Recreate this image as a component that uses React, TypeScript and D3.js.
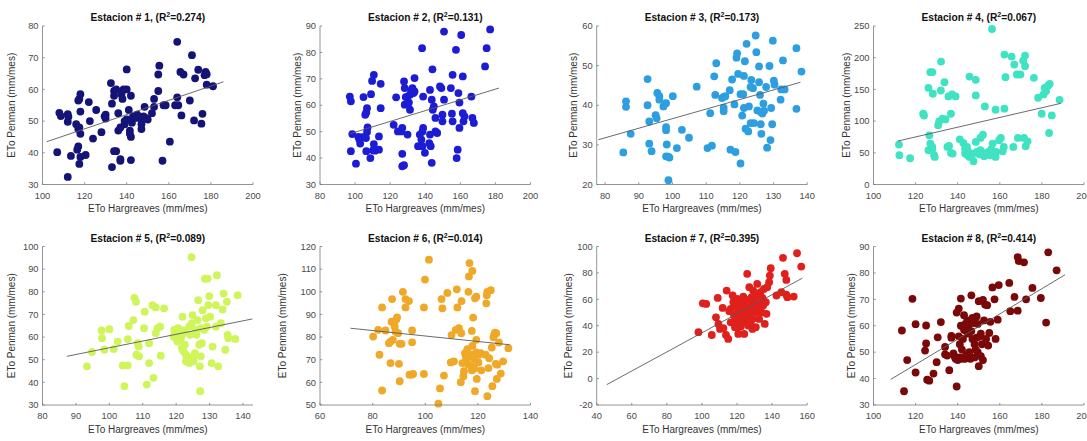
import React from "react";
import * as d3 from "d3";

type Pt = [number, number];

const stationIds = [1, 2, 3, 4, 5, 6, 7, 8];
const r2Labels = ["0.274", "0.131", "0.173", "0.067", "0.089", "0.014", "0.395", "0.414"];
const xLabel = "ETo Hargreaves (mm/mes)";
const yLabel = "ETo Penman (mm/mes)";

const xDomains: Pt[] = [[100, 200], [80, 200], [77.5, 140], [100, 200], [80, 143], [60, 140], [40, 160], [100, 200]];
const yDomains: Pt[] = [[30, 80], [30, 90], [20, 60], [0, 250], [30, 100], [50, 120], [-20, 100], [30, 90]];

const xTicks: number[][] = [
  [100, 120, 140, 160, 180, 200],
  [80, 100, 120, 140, 160, 180, 200],
  [80, 90, 100, 110, 120, 130, 140],
  [100, 120, 140, 160, 180, 200],
  [80, 90, 100, 110, 120, 130, 140],
  [60, 80, 100, 120, 140],
  [40, 60, 80, 100, 120, 140, 160],
  [100, 120, 140, 160, 180, 200],
];
const yTicks: number[][] = [
  [30, 40, 50, 60, 70, 80],
  [30, 40, 50, 60, 70, 80, 90],
  [20, 30, 40, 50, 60],
  [0, 50, 100, 150, 200, 250],
  [30, 40, 50, 60, 70, 80, 90, 100],
  [50, 60, 70, 80, 90, 100, 110, 120],
  [-20, 0, 20, 40, 60, 80, 100],
  [30, 40, 50, 60, 70, 80, 90],
];

const colors = ["#141478", "#1c1cd4", "#2d9fe0", "#3fe3c2", "#cff55a", "#f0a828", "#e0201c", "#7a0808"];

// regression line end points [x, y]
const fits: Pt[][] = [
  [[102, 43.5], [186, 62.4]],
  [[97, 49.2], [182, 66.5]],
  [[78, 31.3], [138, 45.8]],
  [[111.5, 68.5], [189, 128]],
  [[87.3, 51.5], [142.8, 68]],
  [[71.6, 83.9], [132.1, 76.6]],
  [[45.7, -4.6], [157.2, 76]],
  [[108.2, 39.7], [191, 79.3]],
];

const est1: Pt[] = [[107,40.2],[108,52.6],[108.7,51.6],[112,32.4],[112,52.2],[112.3,51.4],[112,49.8],[113.5,39],[116,49],[116.5,41],[117,42],[117,47.5],[117.5,48],[117,56.5],[117.5,57],[117.5,36.5],[118,58.5],[118,53],[118,46],[118,38.7],[120.5,39.3],[122,56],[122.5,50],[124,44.5],[125.5,53.5],[128,46.5],[129.5,51.5],[130,52],[130,50.8],[132.5,62],[133,55.5],[133,35.5],[134,59.5],[134,58],[134,40.5],[135,40.5],[135,60],[136,52.5],[136,47],[137,48],[137,38],[137,37.5],[137.5,58.5],[138,57],[138.5,60],[139,50],[139,49],[140,66.3],[140,60],[140,50.5],[141,53.5],[141.5,47],[141.5,46],[142,58],[142,45],[142,37.7],[142.5,49.5],[143,51.5],[144,51],[145,52],[146,51],[147,47.5],[147,49],[148,51.5],[148.5,54.5],[149,51],[150,50.5],[152,52.5],[153,54.5],[153,57],[155,59.5],[155,64.7],[155.5,67.5],[157,37.5],[157.5,55],[158.5,55],[160.5,43.5],[163,55],[164,57.5],[164,75],[164.5,55],[165.5,65.5],[166,51.8],[167,64.7],[170,56.5],[171,70.8],[172,50.2],[172.5,63.5],[174,66.2],[175.5,49.2],[176,52.3],[177,64.5],[177.5,65.5],[178,64.8],[178,61.5],[181,61]];

const est2: Pt[] = [[97,63.3],[97.6,61.5],[98.4,49.1],[97.6,42.6],[100.5,37.9],[101.9,48],[102.5,47],[102.9,45.5],[104.2,47.9],[104.8,63.1],[105.8,56.4],[106.4,57.3],[106.8,58.9],[106.2,47.6],[106.4,42.6],[107.1,51.6],[106.8,49.9],[108.7,40],[109.1,64.2],[109.7,69.2],[110.7,71.5],[110.7,45.3],[110.3,43],[111.3,42.8],[114.6,68.1],[114.6,58.9],[113.6,48.2],[113.6,43.2],[122,52.6],[123.4,63],[124.4,50.1],[126.3,50.1],[126.9,51.4],[126.9,41.6],[126.9,36.9],[127.9,37.3],[127.9,69],[128.3,66.5],[128.3,60.2],[128.9,63.1],[129.9,63.3],[130.7,61],[131.3,64],[131.9,64.6],[132.3,65.8],[132.7,66.5],[133.3,64.6],[133.9,65.2],[131.3,58.3],[129.9,48.9],[133.9,70.3],[135.9,44.5],[136.9,48.9],[137.8,47],[138.2,81.6],[138.4,50.1],[138.8,51.4],[138.4,44.5],[138.8,63.3],[139.8,42],[142.3,45.7],[142.7,65.8],[142.7,48.9],[143.1,44.5],[143.7,38.2],[143.7,62.1],[144.3,58.3],[144.1,73.6],[144.9,59.6],[145.8,50.1],[145.8,55.2],[146.8,49.5],[148.4,67.1],[149.2,66.5],[149.8,56.4],[149.8,53.9],[150.7,87.9],[150.7,62.1],[154.6,66.5],[155.2,56.8],[155.6,53.9],[155.6,71.5],[157.5,81],[157.9,40],[158.5,43.2],[158.9,64.6],[159.5,61],[159.5,51.4],[160.5,86.6],[161.4,70.9],[161.4,57],[161.8,53.9],[162.4,55.8],[166.3,63.3],[166.9,55.2],[167.7,53.3],[174.1,74.7],[175,81.6],[177,88.7]];

const est3: Pt[] = [[85.4,28.1],[86.2,41],[86.2,39.6],[87.6,32.8],[92.6,46.6],[92.6,40],[93.1,35.9],[93.1,30.3],[93.8,28.4],[95,37.5],[95.3,36.7],[95.5,43.1],[96.1,42.3],[96.1,41.4],[97.3,39.7],[98.1,40.5],[98.1,34.5],[98.1,33.7],[98.3,30.1],[98.1,27.1],[98.8,27],[99.1,26.8],[98.8,21.1],[100.1,42.3],[101.3,29.2],[102.8,33.8],[104.9,31.8],[107.2,44.7],[110.4,29.2],[111.2,38],[111.7,29.8],[112.4,47.3],[112.7,42.6],[113,50.6],[114.7,41.8],[115.2,42.1],[115.2,39.4],[115.2,38.5],[115.7,42.3],[117,43.8],[117.2,28.8],[117.7,46.5],[118.4,40.2],[118.7,28.2],[119,52],[119.2,53.1],[119.5,47.9],[120.2,42.8],[120.2,25.3],[120.7,37.4],[121,42.8],[121.2,47.4],[121.2,39.3],[121.5,51.1],[121.7,34.1],[122,55.5],[122.5,33.4],[122.7,39.7],[123.2,44.6],[123.2,35.5],[123.4,46.4],[123.9,44.3],[124.2,35.5],[124.7,57.6],[124.9,53.4],[125.2,38.7],[125.7,49.8],[125.7,45.8],[126,42.6],[126.2,38.3],[126.2,35.2],[126.4,32.8],[126.7,37.9],[127,40.4],[127.2,38.6],[127.8,44.6],[128.1,29.3],[128.8,49.9],[129.1,31.2],[129.3,39.3],[129.6,35.2],[129.8,56.3],[130.1,46.2],[130.3,45.2],[132.1,41.4],[132.3,44],[132.8,51.3],[133.3,44],[136.8,54.4],[136.8,39.1],[138.3,48.5]];

const est4: Pt[] = [[112.1,62.9],[112.3,46.1],[117.4,41.4],[123.6,111.6],[124,108.8],[126.1,152.5],[126.5,77.6],[127,177.2],[127.9,177.2],[127,64.5],[127.9,59.2],[127.9,55.6],[128.8,46.1],[129.1,43.5],[128.2,143.1],[126.1,54],[130.7,93.3],[131.2,99.6],[132.1,193.9],[132,148.3],[132.8,103.8],[133.7,161.4],[134.2,102.7],[135.1,59.2],[135.6,138.9],[135.9,60.8],[136.8,49.8],[136.8,111.6],[137.3,142],[137.6,48.8],[139,138.9],[141,71.3],[142.7,65.5],[143.5,56.6],[143.5,49.8],[144,47.7],[144.4,59.2],[144.9,52.4],[145.3,44.6],[145.6,43.5],[145.6,170.3],[146.6,48.8],[146.9,47.2],[147.5,36.7],[148.6,165.1],[148.6,140.5],[148.6,67.1],[149.1,51.4],[150.3,47.7],[150.8,54],[150.8,73.4],[152,78.6],[152.5,44.6],[152.9,123.2],[153.7,49.8],[154.6,51.4],[155.4,46.1],[155.9,55.6],[156.3,245.3],[156.6,64.5],[158,43.5],[158.3,51.4],[158,118],[159.7,69.8],[160.5,73.4],[161.4,52.4],[161.9,59.2],[162.2,119.6],[162.2,205],[162.7,169.3],[165.6,201.8],[166.4,59.2],[166.9,189.2],[168.1,173.5],[168.6,73.4],[169.8,173.5],[171.1,195.5],[171.5,73.4],[172.3,60.3],[172,203.4],[172,186.6],[173.2,68.1],[176.2,168.3],[178.2,136.8],[179.9,111.6],[180.8,142],[181.3,152.5],[182,147.3],[183,156.2],[183.7,158.8],[183.4,81.2],[184.7,109],[188.4,133.6]];

const est5: Pt[] = [[93.3,47.1],[94.8,53.4],[97.7,62.9],[97.8,59.5],[98.5,54.4],[100,63.5],[101.3,54.7],[102.5,58],[104,47.5],[104.5,38.3],[105.5,47.5],[105.5,59.1],[105.8,64.9],[107.2,67.5],[107.5,77.3],[108,75.6],[108.5,57.3],[108.8,55.8],[108.1,52.2],[108.9,51.5],[110.4,63.9],[110.6,71.2],[111.2,39],[111.9,48.5],[111.9,57.3],[112.9,74.1],[113.2,42],[113.9,73.1],[113.9,61.7],[114.4,63.9],[115.2,64.6],[115.4,51.8],[116.4,72.7],[119.2,60.2],[119.4,63.2],[119.6,61.7],[119.9,59.5],[120.2,61],[120.4,58],[120.6,63.9],[120.9,61.7],[121.2,62.4],[121.4,59.5],[121.7,55.1],[121.9,61.3],[121.9,69],[122.2,53.7],[122.4,62.9],[122.6,56.6],[122.9,52.2],[122.9,49.3],[123.4,51.5],[123.6,50],[123.9,64.6],[123.9,48.5],[124.2,61],[124.4,50.7],[124.6,95.3],[124.7,66.1],[124.9,69.7],[125.2,49.3],[125.4,51.5],[125.6,52.9],[125.9,63.2],[126.1,61],[126.4,67.5],[126.6,76.3],[126.9,56.6],[127.1,47.1],[127.2,36.1],[127.4,51.5],[127.4,63.9],[127.7,57.3],[127.9,71.9],[128.4,63.2],[128.6,85.8],[128.9,68.3],[129.2,64.6],[129.4,85.8],[129.6,74.1],[129.9,78.1],[130.2,69],[130.6,48.5],[130.9,55.8],[131.9,64.6],[131.9,74.1],[132.2,87.3],[132.6,47.1],[133.4,66.1],[133.9,72.2],[134.2,79.2],[134.7,54.4],[135.2,75.6],[135.4,61],[135.6,59.5],[137.7,59.2],[138.4,78.5]];

const est6: Pt[] = [[80.2,80.2],[82.1,83.2],[82.6,72.2],[83.6,93.1],[83.6,56.4],[84.9,82.9],[86.2,77.3],[86.8,78],[86.8,68.5],[87.2,86.8],[87.4,96.8],[87.7,78.8],[88.1,86.1],[88.4,84.6],[88.7,82.4],[89,87.8],[89.3,88.7],[89.7,81.7],[90,68.2],[90.3,77],[90.3,60.5],[91,77],[91.5,100],[92.5,96.8],[92.5,93.1],[93.8,95.9],[94,63.4],[94.8,63.4],[95,82.9],[95,77.7],[95.4,63.7],[99.5,93.1],[99.5,63.7],[99.9,105.4],[101.4,114.2],[105,50.6],[105.6,57.3],[106.2,96.8],[106.5,92.7],[107.1,63],[108.4,99.5],[109.7,68.8],[110,80.9],[110.9,69.3],[111.6,83.2],[112,101.1],[112.2,93.1],[112.8,83.9],[113.5,60.1],[113.7,81.7],[113.8,95.9],[114.1,68.5],[114.5,62.7],[114.7,64.9],[115.1,72.9],[115.4,71.5],[115.6,70],[116,74.7],[116.4,67.8],[116.4,100],[116.6,106.8],[116.8,112.7],[117.3,72.2],[117.7,67.1],[117.7,65.3],[117.7,82.7],[117.9,76.1],[117.9,109.2],[118.2,88.6],[118.5,70.3],[118.7,66.1],[118.9,97.1],[118.9,56.1],[119.4,97.8],[119.4,78.8],[119.4,73.2],[119.6,61.5],[120.2,68.8],[120.4,72.2],[121.1,72.9],[121.3,65.3],[122.9,72.2],[123.2,94.9],[123.4,98.5],[123.6,100],[123.6,53.9],[124,66.3],[124.3,70.7],[124.9,100.7],[125.3,75.4],[125.5,58.3],[125.9,79.9],[126.2,81],[126.5,82],[126.8,68.2],[127,81.7],[127.2,61.5],[127.4,67.8],[128,77.6],[128.7,63.9],[129.6,69.3],[131.6,75.1]];

const est7: Pt[] = [[98,35.1],[100.5,57],[102.4,56.5],[105.6,33],[108,46.4],[109,61.1],[109.4,41.4],[110.3,37.6],[111.8,53.5],[112.2,38.1],[113.7,33],[114.1,66.6],[115,30],[115.6,51],[116.4,52.8],[116.4,42.6],[117.5,62.9],[117.9,57.8],[118.3,47.7],[118.8,38.9],[119.2,54.5],[119.4,43.9],[119.8,49],[120.2,60.3],[120.3,38.9],[120.7,33.8],[120.7,52.8],[121.3,43.9],[121.7,56.5],[121.7,50.2],[122.2,39.4],[122.6,59.1],[123,47.7],[123.2,53.5],[123.6,62.1],[123.6,42.6],[124.1,33.8],[124.5,56.5],[124.5,51.5],[124.9,46.4],[125.4,59.6],[125.8,54],[125.8,79.3],[126.4,40.1],[126.8,49],[127,69.2],[127.3,56.5],[127.7,42.6],[127.9,52],[128.3,61.6],[128.8,45.2],[128.8,37.6],[129.2,66.6],[129.6,55.3],[130.2,59.1],[130.5,50.2],[130.7,38.9],[131.1,62.9],[131.5,71.7],[132.1,52.8],[132.6,45.2],[133,57],[133.4,65.4],[133.9,50.2],[134.5,61.1],[134.9,55.3],[135.3,67.9],[135.8,41.4],[136.4,57.8],[136.8,49],[137.2,69.2],[138.3,73],[138.7,78],[139.2,83.6],[142.5,62.9],[145.3,65.4],[146.2,91.4],[147.2,79.3],[148.1,74.7],[148.1,63.6],[148.7,61.6],[152.3,62.1],[154.2,94.9],[156.6,84.8]];

const est8: Pt[] = [[113.5,58.2],[114.5,35.2],[116,47],[118.5,70.2],[120,60.6],[120,42.3],[124.5,50.6],[125,53.3],[125,60.1],[125.5,39.6],[126.5,39.2],[128.5,41.9],[130,46.2],[130.5,55.6],[132,61.4],[134,52],[134,49.2],[135,48.7],[136,43.2],[137,56.2],[137,55.5],[138,49.5],[138.5,48.4],[139,47.5],[139.5,65],[139.5,37],[140,47],[140.5,66.5],[140.5,56],[141,48],[141,53],[141.5,70.3],[141.5,60],[142,47.5],[142,51],[142.5,55],[143,64],[143,58.5],[143.5,60.5],[143.5,47.5],[144,58],[144,49],[144.5,62],[145,60],[145,57],[145.5,50],[146,47.5],[146.5,71.5],[146.5,58],[147,63],[147,55],[147.5,61],[148,53],[148,48],[148.5,51],[149,55.5],[149,63.5],[149.5,60.7],[149.5,50],[150,44.7],[150,69.3],[150.5,56],[151,57],[151,48.5],[151.5,53],[152,69.8],[152,47],[152.5,62],[153,68],[153.5,55],[154,67.8],[154.5,52.5],[155,57.3],[155.5,61.5],[156.5,74.5],[157.5,70],[158,55],[159,62.3],[159.5,75.4],[164.5,76.2],[165,65.5],[167,70.9],[168.5,86],[168.5,65.7],[169,84.5],[171.5,84],[172.5,70],[175.5,74.3],[179.5,70.5],[182,61.2],[183,87.8],[187,81]];

const stations: Pt[][] = [est1, est2, est3, est4, est5, est6, est7, est8];

// layout
const colLeft = [42.5, 320, 596.7, 873.5];
const rowTop = [26, 246.5];
const plotW = 210.5;
const plotH = 158.5;
const yLabelOffset = [31, 23, 23, 27, 31, 38, 28, 22];
const FONT = "'Liberation Sans', Arial, Helvetica, sans-serif";

function Panel({ i }: { i: number }) {
  const left = colLeft[i % 4];
  const top = rowTop[Math.floor(i / 4)];
  const x = d3.scaleLinear().domain(xDomains[i]).range([0, plotW]);
  const y = d3.scaleLinear().domain(yDomains[i]).range([plotH, 0]);
  const line = d3.line<Pt>().x((d) => x(d[0])).y((d) => y(d[1]));
  const axisColor = "#7a7a7a";
  const textColor = "#4a4a4a";
  return (
    <g transform={`translate(${left},${top})`}>
      {/* points */}
      {stations[i].map((d, k) => (
        <circle key={k} cx={x(d[0])} cy={y(d[1])} r={3.9} fill={colors[i]} />
      ))}
      {/* regression line */}
      <path d={line(fits[i]) || ""} stroke="#5a5a5a" strokeWidth={0.9} fill="none" />
      {/* axes */}
      <line x1={0} y1={plotH} x2={plotW} y2={plotH} stroke={axisColor} strokeWidth={0.8} />
      <line x1={0} y1={0} x2={0} y2={plotH} stroke={axisColor} strokeWidth={0.8} />
      {xTicks[i].map((t) => (
        <g key={"x" + t} transform={`translate(${x(t)},${plotH})`}>
          <line y1={0} y2={-2.2} stroke={axisColor} strokeWidth={0.8} />
          <text y={14} textAnchor="middle" fontSize={9.3} fill={textColor} fontFamily={FONT}>
            {t}
          </text>
        </g>
      ))}
      {yTicks[i].map((t) => (
        <g key={"y" + t} transform={`translate(0,${y(t)})`}>
          <line x1={0} x2={2.2} stroke={axisColor} strokeWidth={0.8} />
          <text x={-4} dy="0.34em" textAnchor="end" fontSize={9.3} fill={textColor} fontFamily={FONT}>
            {t}
          </text>
        </g>
      ))}
      <text x={plotW / 2} y={plotH + 27.5} textAnchor="middle" fontSize={10} fill="#333" fontFamily={FONT}>
        {xLabel}
      </text>
      <text
        transform={`translate(${-yLabelOffset[i]},${plotH / 2}) rotate(-90)`}
        dy="0.35em"
        textAnchor="middle"
        fontSize={10}
        fill="#333"
        fontFamily={FONT}
      >
        {yLabel}
      </text>
      <text x={plotW / 2} y={-5} textAnchor="middle" fontSize={10.2} fontWeight="bold" fill="#111" fontFamily={FONT}>
        {`Estacion # ${stationIds[i]}, (R`}
        <tspan dy={-3.8} fontSize={7}>2</tspan>
        <tspan dy={3.8}>{`=${r2Labels[i]})`}</tspan>
      </text>
    </g>
  );
}

export default function App() {
  return (
    <svg
      width={1087}
      height={441}
      style={{ position: "absolute", left: 0, top: 0, background: "#fff" }}
    >
      <rect width={1087} height={441} fill="#fff" />
      {stationIds.map((_, i) => (
        <Panel key={i} i={i} />
      ))}
    </svg>
  );
}
